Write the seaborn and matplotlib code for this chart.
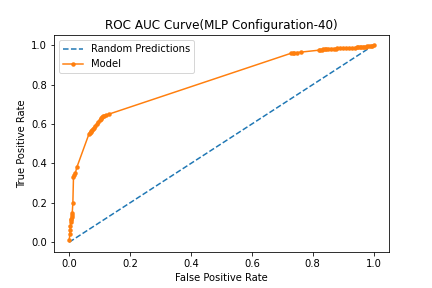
import matplotlib
matplotlib.use("Agg")
import matplotlib.pyplot as plt
import seaborn as sns

# ROC data
random_fpr = [0.0, 1.0]
random_tpr = [0.0, 1.0]

model_fpr = [0.0, 0.0, 0.002, 0.003, 0.004, 0.005, 0.006, 0.007, 0.008, 0.009, 0.010,
             0.012, 0.014, 0.016, 0.020, 0.025, 0.065, 0.068, 0.070, 0.073, 0.075,
             0.078, 0.080, 0.085, 0.090, 0.095, 0.100, 0.103, 0.105, 0.108, 0.110,
             0.115, 0.120, 0.130, 0.730, 0.735, 0.740, 0.750, 0.760, 0.820, 0.825,
             0.830, 0.835, 0.840, 0.845, 0.850, 0.860, 0.870, 0.875, 0.880, 0.890,
             0.900, 0.910, 0.920, 0.930, 0.940, 0.945, 0.950, 0.955, 0.960, 0.965,
             0.970, 0.975, 0.980, 0.985, 0.990, 0.995, 1.0]
model_tpr = [0.0, 0.02, 0.04, 0.06, 0.08, 0.10, 0.11, 0.12, 0.13, 0.14, 0.15,
             0.20, 0.33, 0.34, 0.35, 0.38, 0.55, 0.555, 0.56, 0.565, 0.57,
             0.575, 0.58, 0.59, 0.60, 0.61, 0.62, 0.625, 0.63, 0.635, 0.64,
             0.642, 0.645, 0.65, 0.96, 0.961, 0.962, 0.963, 0.965, 0.975, 0.976,
             0.978, 0.979, 0.98, 0.981, 0.983, 0.983, 0.983, 0.983, 0.984, 0.984,
             0.985, 0.985, 0.986, 0.987, 0.988, 0.989, 0.99, 0.99, 0.99, 0.991,
             0.992, 0.993, 0.995, 0.996, 0.997, 0.998, 1.0]

fig = plt.figure(figsize=(6, 4), dpi=72)
fig.subplots_adjust(bottom=0.125, top=0.877)
sns.lineplot(x=random_fpr, y=random_tpr, linestyle="--", label="Random Predictions")
sns.lineplot(x=model_fpr, y=model_tpr, marker=".", markeredgewidth=0,
             markersize=9, sort=False, label="Model")
plt.title("ROC AUC Curve(MLP Configuration-40)")
plt.xlabel("False Positive Rate")
plt.ylabel("True Positive Rate")
plt.legend(loc="upper left")
plt.savefig("out.png")
